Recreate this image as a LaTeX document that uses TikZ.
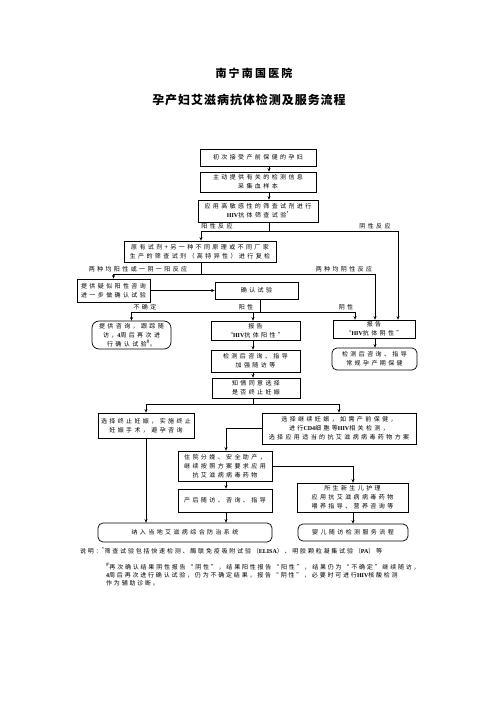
\documentclass[tikz,border=0pt]{standalone}
\usepackage{fontspec}
\setmainfont{Liberation Serif}
\newfontfamily\cjk[LetterSpace=40]{Noto Sans CJK SC}
\newfontfamily\cjkn[LetterSpace=30]{Noto Sans CJK SC}
\newfontfamily\cjkt[LetterSpace=20]{Noto Sans CJK SC}
\newfontfamily\cjks[LetterSpace=8]{Noto Sans CJK SC}
\newfontfamily\lat{Liberation Serif}
\usetikzlibrary{arrows.meta}
\newcommand\Lt[1]{{\lat\bfseries #1}}
\newcommand\bodyf{\fontsize{6}{8.8}\cjk\selectfont}
\newcommand\notef{\fontsize{6}{8}\cjkn\selectfont}
\tikzset{
  box/.style={draw, line width=0.7pt, inner sep=0pt, align=center, font=\bodyf},
  rbox/.style={box, rounded corners=5pt},
  lab/.style={inner sep=0pt, font=\bodyf},
  arr/.style={-{Stealth[length=3.5pt,width=3pt]}, line width=0.5pt},
  ln/.style={line width=0.5pt}
}
\begin{document}
\begin{tikzpicture}[x=1pt,y=-1pt]
\useasboundingbox (0,0) rectangle (496,702);
% titles
\node[inner sep=0pt, font=\fontsize{11}{13}\cjkt\bfseries\selectfont] (t1) at (254,73) {南宁南国医院};
\node[inner sep=0pt, font=\fontsize{12}{14}\cjks\bfseries\selectfont] (t2) at (249,100) {孕产妇艾滋病抗体检测及服务流程};
% boxes
\node[box, minimum width=116pt, minimum height=17pt] (b1) at (258,157.5) {初次接受产前保健的孕妇};
\node[box, minimum width=116pt, minimum height=20pt] (b2) at (258,182) {主动提供有关的检测信息\\采集血样本};
\node[box, minimum width=120pt, minimum height=22pt] (b3) at (258,211) {应用高敏感性的筛查试剂进行\\\Lt{HIV}抗体筛查试验\textsuperscript{*}};
\node[box, minimum width=152pt, minimum height=21pt] (b4) at (200,251.5) {原有试剂+另一种不同原理或不同厂家\\生产的筛查试剂（高特异性）进行复检};
\node[box, minimum width=73pt, minimum height=23pt] (b5) at (113.5,290.5) {提供疑似阳性咨询\\进一步做确认试验};
\node[box, minimum width=83pt, minimum height=17pt] (b6) at (256.5,290.5) {确认试验};
\node[rbox, rounded corners=7pt, minimum width=79pt, minimum height=28pt] (rb1) at (131.5,335) {提供咨询，跟踪随\\访，\Lt{4}周后再次进\\行确认试验\textsuperscript{\#}。};
\node[box, minimum width=89pt, minimum height=19pt] (b7) at (255.5,330.5) {报告\\“\Lt{HIV}抗体阳性”};
\node[box, minimum width=82pt, minimum height=18pt] (b8) at (374,329) {报告\\“\Lt{HIV}抗体阴性”};
\node[box, minimum width=89pt, minimum height=22pt] (b9) at (255.5,361) {检测后咨询、指导\\加强随访等};
\node[rbox, minimum width=85pt, minimum height=22pt] (rb2) at (374.5,359) {检测后咨询、指导\\常规孕产期保健};
\node[box, minimum width=88pt, minimum height=20pt] (b10) at (256,388) {知情同意选择\\是否终止妊娠};
\node[box, minimum width=96pt, minimum height=25pt] (b11) at (146,425.5) {选择终止妊娠，实施终止\\妊娠手术，避孕咨询};
\node[box, minimum width=154pt, minimum height=31pt] (b12) at (339,428.5) {选择继续妊娠，如需产前保健，\\进行\Lt{CD4}细胞等\Lt{HIV}相关检测，\\选择应用适当的抗艾滋病病毒药物方案};
\node[box, minimum width=94pt, minimum height=30pt] (b13) at (225,466) {住院分娩、安全助产，\\继续按照方案要求应用\\抗艾滋病病毒药物};
\node[box, minimum width=94pt, minimum height=23pt] (b14) at (225,500.5) {产后随访、咨询、指导};
\node[box, minimum width=111pt, minimum height=29pt] (b15) at (352.5,497.5) {所生新生儿护理\\应用抗艾滋病病毒药物\\喂养指导、营养咨询等};
\node[rbox, minimum width=174pt, minimum height=19pt] (b16) at (185,532.5) {纳入当地艾滋病综合防治系统};
\node[rbox, minimum width=110pt, minimum height=17pt] (b17) at (353,532.5) {婴儿随访检测服务流程};
% labels
\node[lab] (l1) at (217,226.5) {阳性反应};
\node[lab] (l2) at (375,226.5) {阴性反应};
\node[lab] (l3) at (138,269) {两种均阳性或一阴一阳反应};
\node[lab] (l4) at (344,269) {两种均阴性反应};
\node[lab] (l5) at (145,307) {不确定};
\node[lab] (l6) at (246,307) {阳性};
\node[lab] (l7) at (346,307) {阴性};
% notes
\node[inner sep=0pt, anchor=west, font=\notef] (n1) at (80,551) {说明：\textsuperscript{*}筛查试验包括快速检测、酶联免疫吸附试验（\Lt{ELISA}）、明胶颗粒凝集试验（\Lt{PA}）等};
\node[inner sep=0pt, anchor=north west, align=left, font=\notef] (n2) at (106,563) {\textsuperscript{\#}再次确认结果阴性报告“阴性”，结果阳性报告“阳性”，结果仍为“不确定”继续随访，\\\Lt{4}周后再次进行确认试验，仍为不确定结果，报告“阴性”，必要时可进行\Lt{HIV}核酸检测\\作为辅助诊断。};
% connectors
\coordinate (xa) at (269,0);
\draw[arr] (xa |- b1.south) -- (xa |- b2.north);
\draw[arr] (xa |- b2.south) -- (xa |- b3.north);
\coordinate (j1) at (269,231);
\draw[ln] (xa |- b3.south) -- (j1);
\coordinate (xb) at (201,0);
\draw[arr] (j1) -- (xb |- j1) -- (xb |- b4.north);
\coordinate (xc) at (398,0);
\draw[arr] (j1) -- (xc |- j1) -- (xc |- b8.north);
\coordinate (j2) at (201,274);
\draw[ln] (xb |- b4.south) -- (j2);
\draw[arr] (j2) -- (b5.north |- j2) -- (b5.north);
\coordinate (xd) at (375,0);
\draw[arr] (j2) -- (xd |- j2) -- (xd |- b8.north);
\draw[arr] (b5.east) -- (b5.east -| b6.west);
\coordinate (j3) at (260,312);
\draw[ln] (j3 |- b6.south) -- (j3);
\draw[arr] (j3) -- (rb1.north |- j3) -- (rb1.north);
\coordinate (xe) at (253,0);
\draw[arr] (xe |- j3) -- (xe |- b7.north);
\coordinate (xf) at (355,0);
\draw[arr] (j3) -- (xf |- j3) -- (xf |- b8.north);
\draw[arr] (xe |- b7.south) -- (xe |- b9.north);
\draw[arr] (xd |- b8.south) -- (xd |- rb2.north);
\draw[arr] (xe |- b9.south) -- (xe |- b10.north);
\coordinate (j4) at (253,404);
\draw[ln] (xe |- b10.south) -- (j4);
\draw[arr] (j4) -- (b11.north |- j4) -- (b11.north);
\draw[arr] (j4) -- (b12.north |- j4) -- (b12.north);
\coordinate (xg) at (226,0);
\draw[arr] (b12.west) -- (xg |- b12.west) -- (xg |- b13.north);
\draw[arr] (xg |- b13.south) -- (xg |- b14.north);
\draw[arr] (xg |- b14.south) -- (xg |- b16.north);
\draw[arr] (b11.south) -- (b11.south |- b16.north);
\coordinate (xh) at (353,0);
\draw[arr] (b13.east) -- (xh |- b13.east) -- (xh |- b15.north);
\draw[arr] (xh |- b15.south) -- (xh |- b17.north);
\end{tikzpicture}
\end{document}
